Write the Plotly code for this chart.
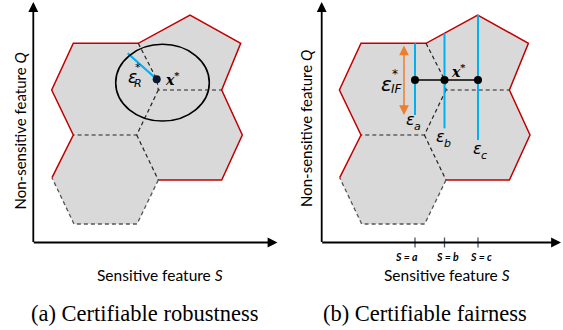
import plotly.graph_objects as go

W, H = 563, 330

# Region layout (shared by both panels, shifted horizontally for the right one)
hex_union = [(73.3, 43.3), (138.3, 43.3), (190.0, 15.0), (240.7, 43.3), (221.7, 90.0),
             (242.3, 135.0), (221.7, 180.0), (158.3, 180.0), (137.0, 224.0), (74.0, 224.0),
             (52.0, 177.7), (73.3, 135.0), (51.7, 90.0)]
red_border = [(52.0, 177.7), (73.3, 135.0), (51.7, 90.0), (73.3, 43.3), (138.3, 43.3),
              (190.0, 15.0), (240.7, 43.3), (221.7, 90.0), (242.3, 135.0), (221.7, 180.0),
              (158.3, 180.0)]
grey_border = [(158.3, 180.0), (137.0, 224.0), (74.0, 224.0), (52.0, 177.7)]
inner_dashed = [
    [(138.3, 43.3), (157.0, 80.0), (158.3, 90.0), (221.7, 90.0)],
    [(158.3, 90.0), (136.7, 135.0), (73.3, 135.0)],
    [(136.7, 135.0), (158.3, 180.0)],
]
panel_shift = [0.0, 287.7]

# Axes (origin, top of y arrow, end of x arrow)
axis_x0 = [33.3, 321.7]
axis_y0 = 242.5
axis_ytop = [2.0, 2.0]
axis_xend = [277.5, 561.0]

# Panel (a): robustness ball around x*
xstar_a = (156.7, 79.3)
ball = dict(x0=115.7, x1=209.3, y0=44.3, y1=121.0)
radius_end = (127.7, 53.3)

# Panel (b): individual fairness across sensitive values
s_names = ["a", "b", "c"]
s_pos = [415.0, 444.5, 478.0]
s_label_x = [406.5, 447.0, 480.5]
pt_y = 80.0
blue_top = [43.3, 33.3, 15.0]
blue_bot = [115.0, 128.3, 140.0]
eps_label_pos = [(410.5, 119.5), (440.5, 136.5), (477.0, 148.0)]
orange_x = 404.0
orange_span = (44.0, 115.0)

RED = "#c00000"
BLUE = "#00b0f0"
ORANGE = "#ed7d31"
FILL = "#d9d9d9"
SANS = "Lato"
SERIF = "Liberation Serif"
MATH = "DejaVu Sans"

fig = go.Figure()


def xy(pts, dx):
    return [p[0] + dx for p in pts], [p[1] for p in pts]


for dx in panel_shift:
    x, y = xy(hex_union, dx)
    fig.add_trace(go.Scatter(x=x + [x[0]], y=y + [y[0]], fill="toself", fillcolor=FILL,
                             mode="lines", line=dict(width=0), hoverinfo="skip"))
    x, y = xy(red_border, dx)
    fig.add_trace(go.Scatter(x=x, y=y, mode="lines", line=dict(color=RED, width=1.5),
                             hoverinfo="skip"))
    x, y = xy(grey_border, dx)
    fig.add_trace(go.Scatter(x=x, y=y, mode="lines",
                             line=dict(color="#555555", width=1.3, dash="4px,3px"),
                             hoverinfo="skip"))
    for seg in inner_dashed:
        x, y = xy(seg, dx)
        fig.add_trace(go.Scatter(x=x, y=y, mode="lines",
                                 line=dict(color="#222222", width=1.2, dash="4px,3px"),
                                 hoverinfo="skip"))

# axes with arrow heads
for i in range(2):
    fig.add_annotation(x=axis_x0[i], y=axis_ytop[i], ax=axis_x0[i], ay=axis_y0 + 1,
                       xref="x", yref="y", axref="x", ayref="y", showarrow=True,
                       arrowhead=2, arrowsize=1.1, arrowwidth=1.8, arrowcolor="#000000", text="")
    fig.add_annotation(x=axis_xend[i], y=axis_y0, ax=axis_x0[i] - 1, ay=axis_y0,
                       xref="x", yref="y", axref="x", ayref="y", showarrow=True,
                       arrowhead=2, arrowsize=1.1, arrowwidth=1.8, arrowcolor="#000000", text="")

# panel (a) ball and radius
fig.add_shape(type="circle", xref="x", yref="y", line=dict(color="#000000", width=1.6), **ball)
fig.add_trace(go.Scatter(x=[radius_end[0], xstar_a[0]], y=[radius_end[1], xstar_a[1]],
                         mode="lines", line=dict(color=BLUE, width=2.2), hoverinfo="skip"))
fig.add_trace(go.Scatter(x=[xstar_a[0]], y=[xstar_a[1]], mode="markers",
                         marker=dict(color="#0b1830", size=8), hoverinfo="skip"))

# panel (b) blue intervals, connecting line and points
for sx, t, b in zip(s_pos, blue_top, blue_bot):
    fig.add_trace(go.Scatter(x=[sx, sx], y=[t, b], mode="lines",
                             line=dict(color=BLUE, width=2), hoverinfo="skip"))
fig.add_trace(go.Scatter(x=s_pos, y=[pt_y] * 3, mode="lines+markers",
                         line=dict(color="#000000", width=1.5),
                         marker=dict(color="#000000", size=8), hoverinfo="skip"))
# ticks on the sensitive axis
for sx in s_pos:
    fig.add_trace(go.Scatter(x=[sx, sx], y=[axis_y0 - 5, axis_y0 + 5], mode="lines",
                             line=dict(color="#44546a", width=1.3), hoverinfo="skip"))

# orange double arrow
fig.add_annotation(x=orange_x, y=orange_span[1], ax=orange_x, ay=orange_span[0],
                   xref="x", yref="y", axref="x", ayref="y", showarrow=True,
                   arrowhead=2, startarrowhead=2, arrowside="end+start", arrowsize=1.3,
                   startarrowsize=1.3, arrowwidth=1.5, arrowcolor=ORANGE, text="")


def txt(x, y, s, size=13, family=SANS, color="#000000", angle=0, xanchor="center"):
    fig.add_annotation(x=x, y=y, xref="x", yref="y", text=s, showarrow=False,
                       font=dict(family=family, size=size, color=color), textangle=angle,
                       xanchor=xanchor, yanchor="middle")


# axis titles and captions
txt(19.5, 131, "Non-sensitive feature <i>Q</i>", size=15, angle=-90)
txt(306.0, 129, "Non-sensitive feature <i>Q</i>", size=15, angle=-90)
txt(160, 275, "Sensitive feature <i>S</i>", size=15.5)
txt(446.5, 275, "Sensitive feature <i>S</i>", size=15.5)
txt(144, 313, "(a) Certifiable robustness", size=22.5, family=SERIF)
txt(425, 313, "(b) Certifiable fairness", size=22.5, family=SERIF)

# panel (a) labels
txt(132.0, 77, "<i>ε</i>", size=17, family=MATH)
txt(138.0, 67.5, "*", size=11, family=MATH)
txt(138.0, 83.5, "<i>R</i>", size=11, family=MATH)
txt(172, 78.5, "<b><i>x</i><sup>*</sup></b>", size=14, family="DejaVu Serif")

# panel (b) labels
txt(386.0, 84, "<i>ε</i>", size=20, family=MATH)
txt(394.5, 73.5, "*", size=12, family=MATH)
txt(397.0, 89, "<i>IF</i>", size=12, family=MATH)
txt(458.0, 70.5, "<b><i>x</i><sup>*</sup></b>", size=14, family="DejaVu Serif")
for (ex, ey), n in zip(eps_label_pos, s_names):
    txt(ex, ey, "<i>ε</i>", size=16, family=MATH)
    txt(ex + 6.5, ey + 7, "<i>" + n + "</i>", size=11, family=MATH)
for lx, n in zip(s_label_x, s_names):
    txt(lx, 256.5, "<b><i>S = " + n + "</i></b>", size=10.5)

fig.update_layout(width=W, height=H, margin=dict(l=0, r=0, t=0, b=0),
                  paper_bgcolor="#ffffff", plot_bgcolor="#ffffff", showlegend=False,
                  xaxis=dict(range=[0, W], visible=False, fixedrange=True),
                  yaxis=dict(range=[H, 0], visible=False, fixedrange=True))

fig.write_html("out.html")
